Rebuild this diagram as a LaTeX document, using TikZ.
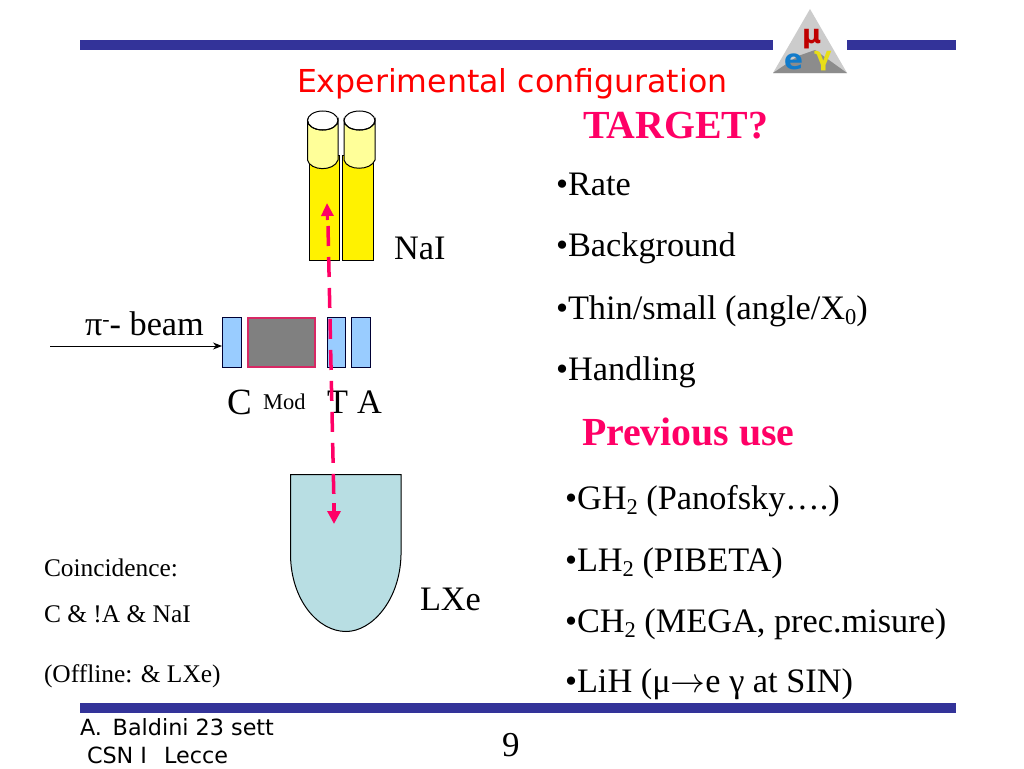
\documentclass[tikz,border=0pt]{standalone}
\usepackage{graphicx}
\usepackage{fontspec}
\setmainfont{Liberation Serif}
\newfontfamily\titlefont{DejaVu Sans}
\usetikzlibrary{arrows.meta}
\definecolor{barblue}{RGB}{51,51,153}
\definecolor{hotpink}{RGB}{255,0,102}
\definecolor{sky}{RGB}{153,204,255}
\definecolor{paleyellow}{RGB}{255,255,153}
\definecolor{lxe}{RGB}{184,222,227}
\definecolor{modgrey}{RGB}{128,128,128}
\definecolor{modedge}{RGB}{215,40,100}
\tikzset{
 x=1pt,y=-1pt,
 txt/.style={anchor=base west,inner sep=0pt,outer sep=0pt},
 big/.style={txt,font=\fontsize{34.3}{38}\selectfont},
 small/.style={txt,font=\fontsize{25.4}{29}\selectfont},
 head/.style={txt,text=hotpink,font=\fontsize{39.8}{44}\selectfont\bfseries},
 foot/.style={txt,font=\titlefont\fontsize{22.3}{26}\selectfont},
 barfill/.style={fill=barblue,draw=none},
 counter/.style={fill=sky,draw=black!80!blue,line width=1pt},
 crystal/.style={fill=yellow,draw=black,line width=1pt},
 crystalcap/.style={fill=paleyellow,draw=black,line width=1pt},
}
\newcommand{\lowsub}[1]{\raisebox{-5pt}{\fontsize{22.5}{25}\selectfont #1}}
\begin{document}
\begin{tikzpicture}
\useasboundingbox (0,0) rectangle (1024,768);
\fill[white] (0,0) rectangle (1024,768);
% bars
\fill[barfill] (80,40) rectangle (773,50);
\fill[barfill] (847,40) rectangle (956,50);
\fill[barfill] (80,703) rectangle (956,713);
% logo
\fill[black!20] (810,9) -- (847,73) -- (773,73) -- cycle;
\fill[black!45] (773,73) -- (798,56) -- (815,50) -- (847,73) -- cycle;
\node[txt,text=red!75!black,font=\titlefont\fontsize{26}{26}\selectfont\bfseries] (mu) at (802,44) {μ};
\node[txt,text=cyan!60!blue,font=\titlefont\fontsize{28}{28}\selectfont\bfseries] (el) at (784,70) {e};
\node[txt,text=yellow!90!black,font=\titlefont\fontsize{26}{26}\selectfont\bfseries] (ga) at (814,65) {γ};
% title
\node[txt,text=red,font=\titlefont\fontsize{31.6}{35}\selectfont] (title) at (297,92) {Experimental configuration};
\node[head] (target) at (583,138) {TARGET?};
% NaI
\draw[crystal] (309,155) rectangle (339.3,260);
\draw[crystal] (342.3,155) rectangle (373.7,260);
\draw[crystalcap] (307.5,120.5) -- (307.5,160) .. controls (310,171) and (334,172) .. (338,160) -- (338,120.5) arc[start angle=0,end angle=180,x radius=15.25,y radius=9.5] -- cycle;
\draw[crystalcap] (344,120.5) -- (344,160) .. controls (347,171) and (371,171) .. (375,160) -- (375,120.5) arc[start angle=0,end angle=180,x radius=15.5,y radius=9.5] -- cycle;
\draw[line width=1pt] (322.75,120.5) ellipse[x radius=15.25,y radius=9.5];
\draw[line width=1pt] (359.5,120.5) ellipse[x radius=15.5,y radius=9.5];
\node[big] (nai) at (394,259) {NaI};
% beam
\node[big] (pib) at (85,335) {π\raisebox{9pt}{\fontsize{22}{24}\selectfont -}- beam};
\coordinate (bs) at (50,346);
% counters
\draw[counter] (222.5,317.5) rectangle (241.5,367.5);
\draw[fill=modgrey,draw=modedge,line width=1.6pt] (248,318) rectangle (315,367);
\draw[counter] (327.5,317.5) rectangle (345.5,367.5);
\draw[counter] (351.5,317.5) rectangle (370.5,367.5);
\coordinate (be) at (222,346);
\draw[-{Stealth[length=9pt,width=7pt]},line width=1pt] (bs) -- (be);
\node[txt,font=\fontsize{37}{40}\selectfont] (c) at (227,414) {C};
\node[txt,font=\fontsize{22.5}{25}\selectfont] (mod) at (263,409) {Mod};
\node[big] (t) at (327,413) {T};
\node[big] (a) at (357,413) {A};
% LXe
\draw[fill=lxe,draw=black,line width=1pt] (290.5,474.5) -- (401,474.5) -- (401,555) .. controls (400,600) and (372,631.5) .. (346,631.5) .. controls (318,631.5) and (291,600) .. (290.5,555) -- cycle;
\node[big] (lxeL) at (420,610) {LXe};
% track
\coordinate (up) at (327,203);
\coordinate (dn) at (334,524);
\draw[hotpink,line width=3.5pt,dash pattern=on 20pt off 11pt] (328,226) -- (334,505);
\draw[hotpink,line width=3pt,-{Triangle[length=13pt,width=12pt]}] (327.5,220) -- (up);
\draw[hotpink,line width=3.5pt,-{Triangle[length=13pt,width=13pt]}] (334,503) -- (dn);
% left text
\node[small] (co) at (44,576) {Coincidence:};
\node[small] (cc2) at (44,622) {C \& !A \& NaI};
\node[small] (off) at (44,682) {(Offline: \& LXe)};
% right list
\node[big] (r1) at (556,195) {•Rate};
\node[big] (r2) at (556,256) {•Background};
\node[big] (r3) at (556,319) {•Thin/small (angle/X\lowsub{0})};
\node[big] (r4) at (556,380) {•Handling};
\node[head] (prev) at (582,445) {Previous use};
\node[big] (g1) at (565,509) {•GH\lowsub{2} (Panofsky….)};
\node[big] (g2) at (565,571) {•LH\lowsub{2} (PIBETA)};
\node[big] (g3) at (565,632) {•CH\lowsub{2} (MEGA, prec.misure)};
\node[big] (g4) at (565,692) {•LiH (μ\scalebox{1.4}{$\rightarrow$}e γ at SIN)};
% footer
\node[foot] (f1) at (80,735) {A.\, Baldini 23 sett};
\node[foot] (f2) at (87,763) {CSN I\;\, Lecce};
\node[txt,font=\fontsize{35}{38}\selectfont] (nine) at (502,756) {9};
\end{tikzpicture}
\end{document}
